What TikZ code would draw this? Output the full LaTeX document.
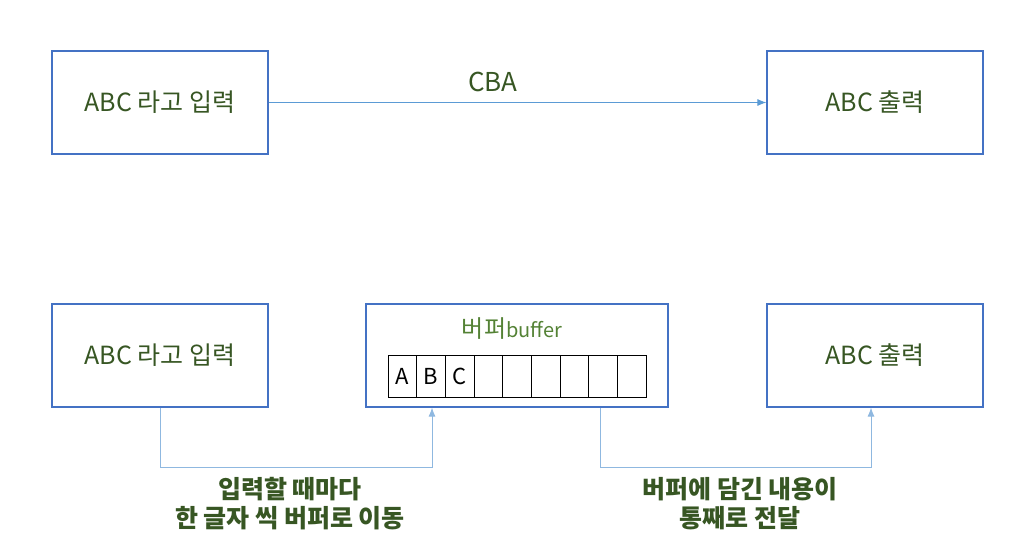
\documentclass[tikz,border=0pt]{standalone}
\usepackage{fontspec}
\setmainfont{Noto Sans CJK KR}
\usetikzlibrary{arrows.meta}
\definecolor{boxblue}{HTML}{4472C4}
\definecolor{linkblue}{HTML}{5B9BD5}
\definecolor{lightlink}{HTML}{8FB8E0}
\definecolor{txtgreen}{HTML}{375623}
\definecolor{bufgreen}{HTML}{548235}
\tikzset{
  procbox/.style={draw=boxblue, line width=1.2pt, minimum width=216pt, minimum height=103pt, inner sep=0pt, text=txtgreen, font=\fontsize{25}{30}\selectfont},
  bufbox/.style={draw=boxblue, line width=1.2pt, minimum width=302pt, minimum height=103pt, inner sep=0pt},
  cell/.style={draw=black, line width=0.9pt, minimum width=28.67pt, minimum height=42pt, inner sep=0pt, font=\fontsize{22}{26}\selectfont},
  toparrow/.style={draw=linkblue, line width=0.9pt, -{Latex[length=9pt,width=7pt]}},
  botarrow/.style={draw=lightlink, line width=0.9pt, -{Latex[length=9pt,width=7pt]}},
  lbl/.style={text=txtgreen, font=\fontsize{25}{29}\selectfont, align=center, inner sep=0pt},
}
\begin{document}
\begin{tikzpicture}[x=1pt,y=-1pt]
\useasboundingbox (0,0) rectangle (1022,556);
% top row
\node[procbox] (in1) at (160,102.5) {ABC 라고 입력};
\node[procbox] (out1) at (875,102.5) {ABC 출력};
\draw[toparrow] (in1.east) -- (out1.west);
\node[lbl, font=\fontsize{26}{30}\selectfont] (cba) at (493,82) {CBA};
% bottom row
\node[procbox] (in2) at (160,355.5) {ABC 라고 입력};
\node[bufbox] (buf) at (517,355.5) {};
\node[procbox] (out2) at (875,355.5) {ABC 출력};
\node[text=bufgreen, font=\fontsize{24}{28}\selectfont, inner sep=0pt] (buftitle) at (512,329) {버퍼\fontsize{20}{24}\selectfont buffer};
\foreach \i/\t in {0/A,1/B,2/C,3/,4/,5/,6/,7/,8/} {
  \node[cell] (c\i) at ({388+14.33+\i*28.67},376) {\t};
}
\coordinate (p1) at (160,467);
\coordinate (p2) at (432,467);
\coordinate (q1) at (600,467);
\coordinate (q2) at (871,467);
\draw[botarrow] (in2.south -| p1) -- (p1) -- (p2) -- (buf.south -| p2);
\draw[botarrow] (buf.south -| q1) -- (q1) -- (q2) -- (out2.south -| q2);
\node[lbl, font=\bfseries\fontsize{25}{29}\selectfont] (l1) at (290,504) {입력할 때마다\\한 글자 씩 버퍼로 이동};
\node[lbl, font=\bfseries\fontsize{25}{29}\selectfont] (l2) at (740,504) {버퍼에 담긴 내용이\\통째로 전달};
\end{tikzpicture}
\end{document}
